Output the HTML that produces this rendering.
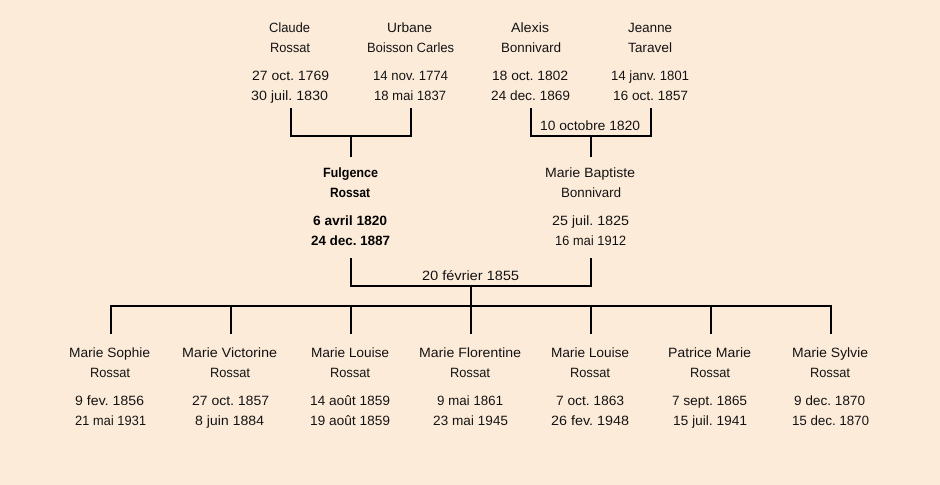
<!DOCTYPE html>
<html><head><meta charset="utf-8"><style>
html,body{margin:0;padding:0;background:#fdebd9;width:940px;height:485px;overflow:hidden}
svg{display:block}
text{font-family:"Comic Sans MS","Liberation Sans",sans-serif;font-size:13.5px;fill:#111;text-rendering:geometricPrecision}
.b{font-weight:bold;fill:#000}
rect{fill:#000}
</style></head><body>
<svg width="940" height="485" viewBox="0 0 940 485" xmlns="http://www.w3.org/2000/svg">
<rect x="0" y="0" width="940" height="485" style="fill:#fdebd9"/>
<rect x="290" y="108" width="2" height="29"/><rect x="410" y="108" width="2" height="29"/><rect x="290" y="135" width="122" height="2"/><rect x="350" y="135" width="2" height="22"/>
<rect x="530" y="108" width="2" height="29"/><rect x="650" y="108" width="2" height="29"/><rect x="530" y="135" width="122" height="2"/><rect x="590" y="135" width="2" height="22"/>
<rect x="350" y="258" width="2" height="29"/><rect x="590" y="258" width="2" height="29"/><rect x="350" y="285" width="242" height="2"/><rect x="470" y="285" width="2" height="22"/>
<rect x="110" y="305" width="722" height="2"/>
<rect x="110" y="305" width="2" height="29"/><rect x="230" y="305" width="2" height="29"/><rect x="350" y="305" width="2" height="29"/><rect x="470" y="305" width="2" height="29"/><rect x="590" y="305" width="2" height="29"/><rect x="710" y="305" width="2" height="29"/><rect x="830" y="305" width="2" height="29"/>

<text x="269" y="32" textLength="41" lengthAdjust="spacingAndGlyphs">Claude</text>
<text x="270" y="52" textLength="40" lengthAdjust="spacingAndGlyphs">Rossat</text>
<text x="252" y="80" textLength="77" lengthAdjust="spacingAndGlyphs">27 oct. 1769</text>
<text x="251" y="100" textLength="77" lengthAdjust="spacingAndGlyphs">30 juil. 1830</text>
<text x="387" y="32" textLength="45" lengthAdjust="spacingAndGlyphs">Urbane</text>
<text x="367" y="52" textLength="87" lengthAdjust="spacingAndGlyphs">Boisson Carles</text>
<text x="373" y="80" textLength="75" lengthAdjust="spacingAndGlyphs">14 nov. 1774</text>
<text x="374" y="100" textLength="72" lengthAdjust="spacingAndGlyphs">18 mai 1837</text>
<text x="511" y="32" textLength="38" lengthAdjust="spacingAndGlyphs">Alexis</text>
<text x="501" y="52" textLength="60" lengthAdjust="spacingAndGlyphs">Bonnivard</text>
<text x="492" y="80" textLength="76" lengthAdjust="spacingAndGlyphs">18 oct. 1802</text>
<text x="491" y="100" textLength="79" lengthAdjust="spacingAndGlyphs">24 dec. 1869</text>
<text x="628" y="32" textLength="44" lengthAdjust="spacingAndGlyphs">Jeanne</text>
<text x="628" y="52" textLength="44" lengthAdjust="spacingAndGlyphs">Taravel</text>
<text x="611" y="80" textLength="78" lengthAdjust="spacingAndGlyphs">14 janv. 1801</text>
<text x="613" y="100" textLength="75" lengthAdjust="spacingAndGlyphs">16 oct. 1857</text>
<text x="540" y="130" textLength="100" lengthAdjust="spacingAndGlyphs">10 octobre 1820</text>

<text class="b" x="323" y="177" textLength="55" lengthAdjust="spacingAndGlyphs">Fulgence</text>
<text class="b" x="330" y="197" textLength="40" lengthAdjust="spacingAndGlyphs">Rossat</text>
<text class="b" x="313" y="225" textLength="74" lengthAdjust="spacingAndGlyphs">6 avril 1820</text>
<text class="b" x="311" y="245" textLength="79" lengthAdjust="spacingAndGlyphs">24 dec. 1887</text>
<text x="545" y="177" textLength="90" lengthAdjust="spacingAndGlyphs">Marie Baptiste</text>
<text x="561" y="197" textLength="60" lengthAdjust="spacingAndGlyphs">Bonnivard</text>
<text x="552" y="225" textLength="77" lengthAdjust="spacingAndGlyphs">25 juil. 1825</text>
<text x="555" y="245" textLength="71" lengthAdjust="spacingAndGlyphs">16 mai 1912</text>
<text x="422" y="280" textLength="97" lengthAdjust="spacingAndGlyphs">20 février 1855</text>

<text x="69" y="357" textLength="81" lengthAdjust="spacingAndGlyphs">Marie Sophie</text>
<text x="90" y="377" textLength="40" lengthAdjust="spacingAndGlyphs">Rossat</text>
<text x="75" y="405" textLength="69" lengthAdjust="spacingAndGlyphs">9 fev. 1856</text>
<text x="75" y="425" textLength="71" lengthAdjust="spacingAndGlyphs">21 mai 1931</text>

<text x="182" y="357" textLength="95" lengthAdjust="spacingAndGlyphs">Marie Victorine</text>
<text x="210" y="377" textLength="40" lengthAdjust="spacingAndGlyphs">Rossat</text>
<text x="192" y="405" textLength="77" lengthAdjust="spacingAndGlyphs">27 oct. 1857</text>
<text x="195" y="425" textLength="69" lengthAdjust="spacingAndGlyphs">8 juin 1884</text>

<text x="311" y="357" textLength="78" lengthAdjust="spacingAndGlyphs">Marie Louise</text>
<text x="330" y="377" textLength="40" lengthAdjust="spacingAndGlyphs">Rossat</text>
<text x="310" y="405" textLength="80" lengthAdjust="spacingAndGlyphs">14 août 1859</text>
<text x="310" y="425" textLength="80" lengthAdjust="spacingAndGlyphs">19 août 1859</text>

<text x="419" y="357" textLength="102" lengthAdjust="spacingAndGlyphs">Marie Florentine</text>
<text x="450" y="377" textLength="40" lengthAdjust="spacingAndGlyphs">Rossat</text>
<text x="437" y="405" textLength="66" lengthAdjust="spacingAndGlyphs">9 mai 1861</text>
<text x="433" y="425" textLength="75" lengthAdjust="spacingAndGlyphs">23 mai 1945</text>

<text x="551" y="357" textLength="78" lengthAdjust="spacingAndGlyphs">Marie Louise</text>
<text x="570" y="377" textLength="40" lengthAdjust="spacingAndGlyphs">Rossat</text>
<text x="556" y="405" textLength="68" lengthAdjust="spacingAndGlyphs">7 oct. 1863</text>
<text x="551" y="425" textLength="78" lengthAdjust="spacingAndGlyphs">26 fev. 1948</text>

<text x="668" y="357" textLength="83" lengthAdjust="spacingAndGlyphs">Patrice Marie</text>
<text x="690" y="377" textLength="40" lengthAdjust="spacingAndGlyphs">Rossat</text>
<text x="672" y="405" textLength="75" lengthAdjust="spacingAndGlyphs">7 sept. 1865</text>
<text x="673" y="425" textLength="74" lengthAdjust="spacingAndGlyphs">15 juil. 1941</text>

<text x="792" y="357" textLength="76" lengthAdjust="spacingAndGlyphs">Marie Sylvie</text>
<text x="810" y="377" textLength="40" lengthAdjust="spacingAndGlyphs">Rossat</text>
<text x="794" y="405" textLength="71" lengthAdjust="spacingAndGlyphs">9 dec. 1870</text>
<text x="792" y="425" textLength="77" lengthAdjust="spacingAndGlyphs">15 dec. 1870</text>
</svg>
</body></html>
